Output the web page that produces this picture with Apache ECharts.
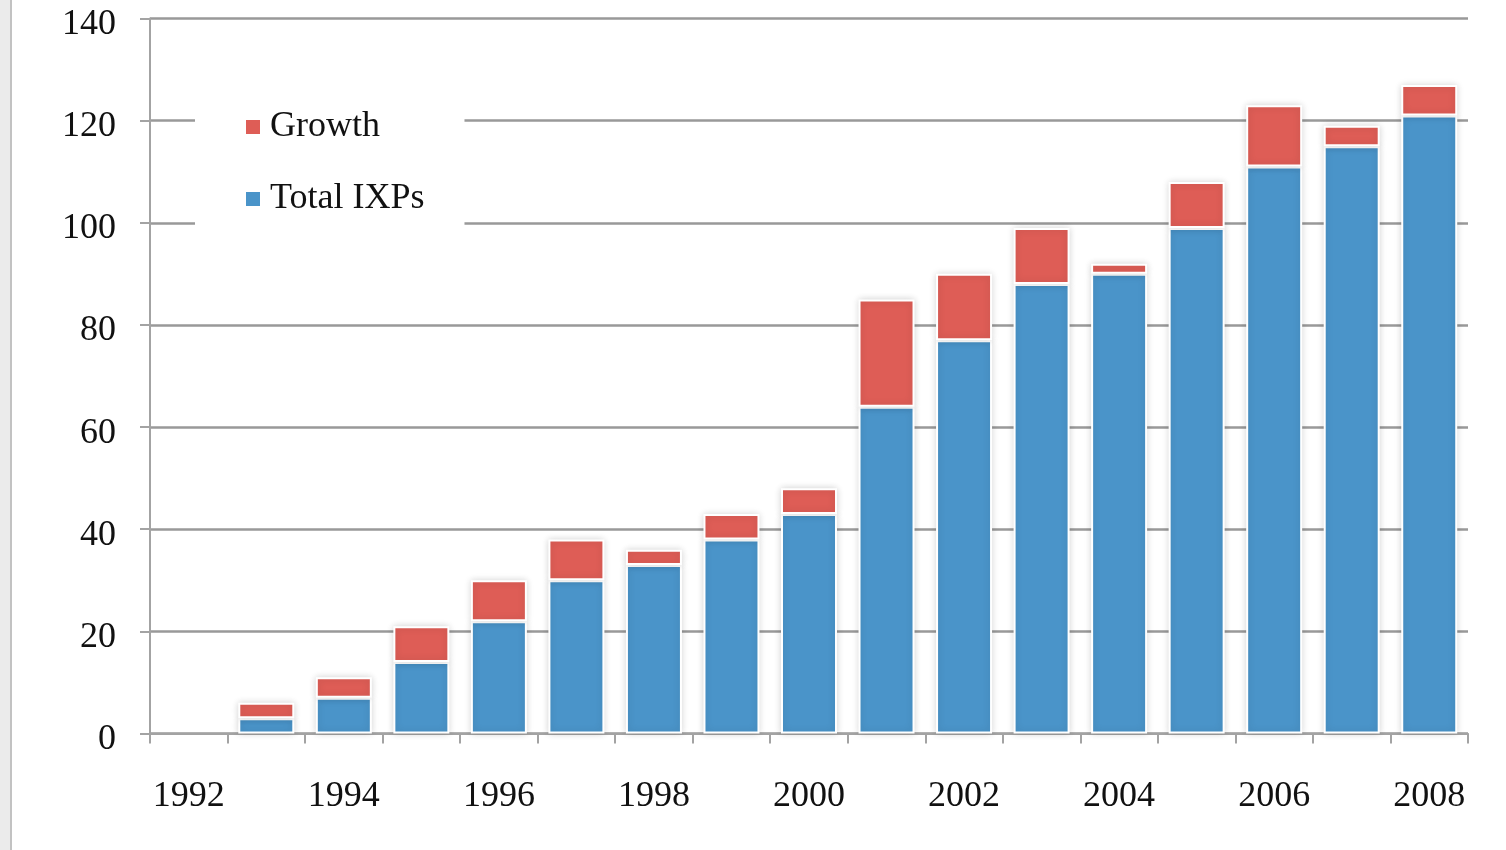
<!DOCTYPE html>
<html>
<head>
<meta charset="utf-8">
<title>IXP growth</title>
<script src="https://cdn.jsdelivr.net/npm/echarts@6/dist/echarts.min.js"></script>
<style>
  html, body { margin: 0; padding: 0; background: #fff; }
  .page { position: relative; width: 1506px; height: 850px; }
  .edge { position: absolute; left: 0; top: 0; width: 10px; height: 850px; background: #ebebeb; border-right: 2px solid #c2c2c2; }
  .ixp-chart { position: absolute; left: 0; top: 0; width: 1506px; height: 850px; }
</style>
</head>
<body>
<div class="page">
  <div class="ixp-chart"></div>
  <div class="edge"></div>
</div>
<script>
// years on the x axis
const years = ["1992", "1993", "1994", "1995", "1996", "1997", "1998", "1999", "2000",
  "2001", "2002", "2003", "2004", "2005", "2006", "2007", "2008"];
// number of IXPs at the start of the year (no bar for 1992)
const totalIXPs = ["-", 3, 7, 14, 22, 30, 33, 38, 43, 64, 77, 88, 90, 99, 111, 115, 121];
// new IXPs added that year
const growth = ["-", 3, 4, 7, 8, 8, 3, 5, 5, 21, 13, 11, 2, 9, 12, 4, 6];

const axisGray = "#a3a3a3";
const font = "'Liberation Serif', 'DejaVu Serif', serif";

const myChart = echarts.init(document.querySelector(".ixp-chart"));

const barStyle = (color) => ({
  color: color,
  borderColor: "#fff",
  borderWidth: 2,
  shadowBlur: 7,
  shadowColor: "rgba(0,0,0,0.16)",
});

const option = {
  animation: false,
  backgroundColor: "#fff",
  textStyle: { fontFamily: font },
  legend: {
    data: ["Growth", "Total IXPs"],
    orient: "vertical",
    left: 195,
    top: 95,
    padding: [12, 40, 16, 49],
    backgroundColor: "#fff",
    itemWidth: 16,
    itemHeight: 16,
    itemGap: 32,
    icon: "rect",
    textStyle: { fontFamily: font, fontSize: 36, color: "#111", lineHeight: 40, padding: [0, 0, 0, 4] },
  },
  grid: {
    left: 150,
    right: 38,
    top: 18.5,
    bottom: 116.5,
    containLabel: false,
  },
  xAxis: {
    type: "category",
    data: years,
    boundaryGap: true,
    axisLine: { lineStyle: { color: axisGray, width: 2 } },
    axisTick: { show: true, interval: 0, length: 10, lineStyle: { color: axisGray, width: 2 } },
    axisLabel: { interval: 1, margin: 45, fontFamily: font, fontSize: 36, color: "#111" },
  },
  yAxis: {
    type: "value",
    min: 0,
    max: 140,
    interval: 20,
    axisLine: { show: true, lineStyle: { color: axisGray, width: 2 } },
    axisTick: { show: true, length: 10, lineStyle: { color: axisGray, width: 2 } },
    axisLabel: {
      margin: 34,
      formatter: "{v|{value}}",
      rich: { v: { fontFamily: font, fontSize: 36, color: "#111", padding: [12, 0, 0, 0] } },
    },
    splitLine: { lineStyle: { color: "#999", width: 2.5 } },
  },
  series: [
    {
      name: "Total IXPs",
      type: "bar",
      stack: "ixp",
      barWidth: 56,
      itemStyle: barStyle("#4a94c9"),
      data: totalIXPs,
    },
    {
      name: "Growth",
      type: "bar",
      stack: "ixp",
      barWidth: 56,
      itemStyle: barStyle("#de5d56"),
      data: growth,
    },
  ],
};
myChart.setOption(option);
</script>
</body>
</html>
